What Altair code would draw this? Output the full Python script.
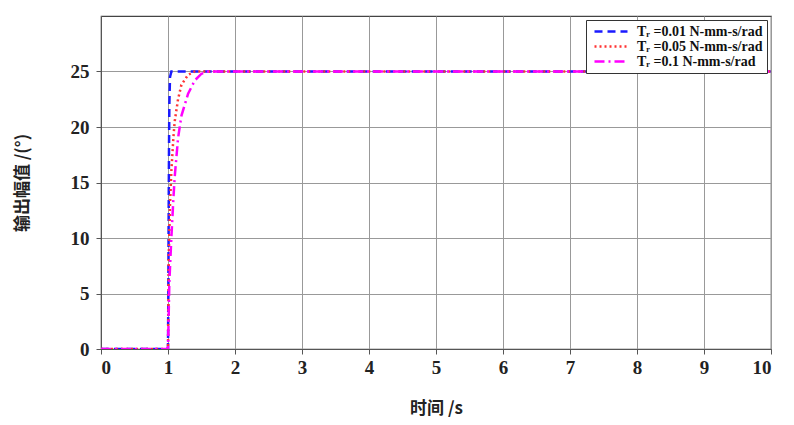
import altair as alt
import pandas as pd

series_names = ["Tᵣ =0.01 N-mm-s/rad", "Tᵣ =0.05 N-mm-s/rad", "Tᵣ =0.1 N-mm-s/rad"]

t1 = [0, 1, 1.005, 1.01, 1.015, 1.02, 1.03, 1.05, 10]
y1 = [0, 0, 5, 12, 18, 22, 24.5, 25, 25]

t2 = [0, 1, 1.01, 1.03, 1.05, 1.08, 1.1, 1.15, 1.2, 1.3, 1.4, 10]
y2 = [0, 0, 8, 13, 16, 19, 20.5, 22.5, 23.8, 24.7, 25, 25]

t3 = [0, 1, 1.02, 1.05, 1.08, 1.1, 1.15, 1.2, 1.3, 1.4, 1.5, 1.6, 10]
y3 = [0, 0, 6, 10, 13.5, 15.5, 19, 21, 23, 24.2, 24.8, 25, 25]

colors = ["#1a1aff", "#ff3333", "#ff00ff"]
dashes = [[8, 5], [2, 3], [10, 4, 2, 4]]

rows = []
for name, ts, ys in zip(series_names, [t1, t2, t3], [y1, y2, y3]):
    for i, (t, y) in enumerate(zip(ts, ys)):
        rows.append({"series": name, "t": t, "y": y, "order": i})
df = pd.DataFrame(rows)

serif = "Liberation Serif"

chart = alt.Chart(df).mark_line(strokeWidth=2.5, clip=True).encode(
    x=alt.X("t:Q", scale=alt.Scale(domain=[0, 10], nice=False),
            axis=alt.Axis(title="时间 /s", values=list(range(0, 11)), grid=True,
                          titleFont="Noto Sans CJK SC", titleFontSize=17, titleFontWeight="bold",
                          titlePadding=23, labelFont=serif, labelFontSize=19, labelFontWeight="bold",
                          labelColor="#222", titleColor="#222", tickColor="#555", domainColor="#555",
                          gridColor="#999", labelPadding=4)),
    y=alt.Y("y:Q", scale=alt.Scale(domain=[0, 30], nice=False),
            axis=alt.Axis(title="输出幅值 /(°)", values=[0, 5, 10, 15, 20, 25], grid=True,
                          titleFont="Noto Sans CJK SC", titleFontSize=17, titleFontWeight="bold",
                          titlePadding=39, labelFont=serif, labelFontSize=19, labelFontWeight="bold",
                          labelColor="#222", titleColor="#222", tickColor="#555", domainColor="#555",
                          gridColor="#999", labelPadding=7)),
    color=alt.Color("series:N", scale=alt.Scale(domain=series_names, range=colors),
                    legend=alt.Legend(title=None, orient="top-right", offset=4,
                                      strokeColor="#333", fillColor="white", padding=4,
                                      labelFont=serif, labelFontSize=14, labelFontWeight="bold",
                                      symbolType="M-0.5,0H5", symbolStrokeWidth=2.5, symbolSize=144,
                                      rowPadding=0, labelColor="#111", labelLimit=300,
                                      labelOffset=32)),
    strokeDash=alt.StrokeDash("series:N", scale=alt.Scale(domain=series_names, range=dashes),
                              legend=None),
    order="order:Q",
).properties(width=670, height=333, padding={"left": 5, "top": 8, "right": 5, "bottom": 5}
).configure_view(stroke="#444", strokeWidth=1.2)

chart.save("out.html", embed_options={"renderer": "svg", "actions": False})
